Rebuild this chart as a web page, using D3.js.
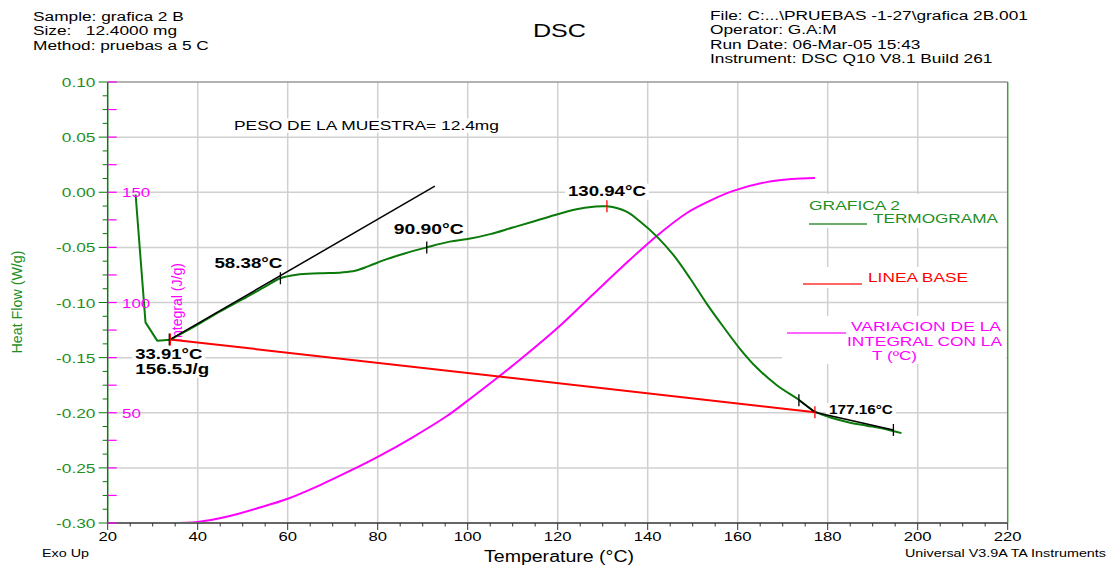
<!DOCTYPE html>
<html><head><meta charset="utf-8">
<script src="https://cdn.jsdelivr.net/npm/d3@7"></script>
<style>body{margin:0;background:#fff}svg{display:block}text{font-family:"Liberation Sans",Arial,sans-serif;white-space:pre}</style>
</head><body><svg id="c" width="1117" height="566"></svg>
<script>
// ---- data ----
// initial transient (drawn with straight segments)
const tempStart = [26.2, 28.4, 31.0, 33.9];
const hfStart = [-0.002, -0.118, -0.1346, -0.1338];
// main heat-flow curve
const tempHF = [33.9, 37, 40, 45, 50, 55, 58.38, 62, 67, 72, 75, 78, 82, 86, 90.9, 96, 100, 105, 110, 114.6, 118.3, 124.2, 127.9, 131, 135.3, 138.3, 142, 145.7, 149.4, 153.1, 156.8, 160.5, 164.2, 168.7, 173.5, 177.2, 181.2, 185, 188.7, 192, 196.4];
const heatFlow = [-0.1338, -0.1268, -0.120, -0.108, -0.097, -0.0855, -0.078, -0.0748, -0.0735, -0.0727, -0.0712, -0.0670, -0.0607, -0.0555, -0.050, -0.0448, -0.0425, -0.038, -0.032, -0.0266, -0.022, -0.0154, -0.0132, -0.0128, -0.0176, -0.0266, -0.040, -0.0569, -0.078, -0.101, -0.122, -0.142, -0.159, -0.175, -0.188, -0.199, -0.205, -0.209, -0.2117, -0.214, -0.2185];
const tempInt = [33.9, 40, 46.4, 53.8, 60, 67.2, 73.8, 80, 87.2, 95.3, 100, 106.8, 111.6, 120, 128, 136.1, 142, 148.7, 153.9, 159, 166.4, 172, 177.16];
const integral = [0, 0.5, 2.8, 7.0, 11.0, 17.2, 23.6, 30.0, 38.2, 48.4, 55.5, 66.2, 74.0, 88.5, 104, 119.5, 130.2, 140.6, 146.2, 150.6, 154.6, 156, 156.5];
const baseT = [33.91, 177.16];
const baseHF = [-0.1335, -0.1995];
const tanT = [33.91, 92.7];
const tanHF = [-0.1335, 0.0055];
const endT = [173.6, 177.16, 194.6];
const endHF = [-0.1886, -0.1995, -0.2156];
const blackMarkT = [58.38, 90.90, 173.6, 194.6];
const blackMarkHF = [-0.078, -0.050, -0.1886, -0.2156];
const redMarkT = [33.91, 130.94, 177.16];
const redMarkHF = [-0.1335, -0.0128, -0.1995];
const xTicks = [20, 40, 60, 80, 100, 120, 140, 160, 180, 200, 220];
const yTicks = [0.10, 0.05, 0.00, -0.05, -0.10, -0.15, -0.20, -0.25, -0.30];
const intTicks = [50, 100, 150];
const headerLeft = ["Sample: grafica 2 B", "Size:   12.4000 mg", "Method: pruebas a 5 C"];
const headerRight = ["File: C:...\\PRUEBAS -1-27\\grafica 2B.001", "Operator: G.A:M", "Run Date: 06-Mar-05 15:43", "Instrument: DSC Q10 V8.1 Build 261"];

// ---- scales ----
const x = d3.scaleLinear().domain([20, 220]).range([107.7, 1007.7]);
const y = d3.scaleLinear().domain([-0.30, 0.10]).range([523, 82]);
const yI = d3.scaleLinear().domain([0, 200]).range([523, 82]);

const GREEN = "#0a7a0a", GTXT = "#1f8f1f", MAG = "#ff00ff", RED = "#ff0000";
const svg = d3.select("#c");
const gGrid = svg.append("g"), gBox = svg.append("g"), gLab = svg.append("g"),
      gData = svg.append("g"), gAxis = svg.append("g"), gText = svg.append("g");

function txt(parent, s, px, py, o = {}) {
  const t = parent.append("text").attr("x", px).attr("y", py).text(s)
    .attr("font-size", o.size || 13).attr("fill", o.fill || "#000")
    .attr("font-weight", o.weight || "normal").attr("text-anchor", o.anchor || "start");
  let w = o.width;
  if (!w && o.sx) w = t.node().getComputedTextLength() * o.sx;
  if (w) t.attr("textLength", w).attr("lengthAdjust", "spacingAndGlyphs");
  if (o.rotate) t.attr("transform", `rotate(${o.rotate},${px},${py})`);
  if (o.box) {
    const sz = o.size || 13;
    let x0 = px;
    if (o.anchor === "middle") x0 = px - w / 2; else if (o.anchor === "end") x0 = px - w;
    gBox.append("rect").attr("x", x0 - 3).attr("y", py - sz * 0.85).attr("width", w + 6)
      .attr("height", sz * 1.1).attr("fill", "#fff");
  }
  return t;
}

// ---- grid ----
d3.range(40, 201, 20).forEach(v => gGrid.append("line").attr("x1", x(v)).attr("x2", x(v))
  .attr("y1", y(0.10)).attr("y2", y(-0.30)).attr("stroke", "#d0d0d0").attr("stroke-width", 1.5));
[-0.25, -0.20, -0.15, -0.10, -0.05, 0.0, 0.05].forEach(v => gGrid.append("line").attr("x1", x(20)).attr("x2", x(220))
  .attr("y1", y(v)).attr("y2", y(v)).attr("stroke", "#d0d0d0").attr("stroke-width", 1.5));

// legend white boxes
[[806, 194, 1000, 228], [800, 267, 972, 288], [782, 316, 1006.5, 364]].forEach(b =>
  gBox.append("rect").attr("x", b[0]).attr("y", b[1]).attr("width", b[2] - b[0]).attr("height", b[3] - b[1]).attr("fill", "#fff"));

// ---- frame / axes ----
gAxis.append("line").attr("x1", x(20)).attr("x2", x(220)).attr("y1", y(0.10)).attr("y2", y(0.10)).attr("stroke", "#999").attr("stroke-width", 1.5);
gAxis.append("line").attr("x1", x(220)).attr("x2", x(220)).attr("y1", y(0.10)).attr("y2", y(-0.30)).attr("stroke", "#3f9f3f").attr("stroke-width", 1.5);
gAxis.append("line").attr("x1", x(20)).attr("x2", x(20)).attr("y1", y(0.10)).attr("y2", y(-0.30)).attr("stroke", GREEN).attr("stroke-width", 1.5);
gAxis.append("line").attr("x1", x(20)).attr("x2", x(220)).attr("y1", y(-0.30)).attr("y2", y(-0.30)).attr("stroke", "#666").attr("stroke-width", 2);
d3.range(20, 221, 5).forEach(v => gAxis.append("line").attr("x1", x(v)).attr("x2", x(v))
  .attr("y1", y(-0.30)).attr("y2", y(-0.30) + (v % 20 === 0 ? 7 : 3.5)).attr("stroke", "#333").attr("stroke-width", 1));
d3.range(0, 33).forEach(i => { const v = 0.10 - i * 0.0125; gAxis.append("line").attr("x1", x(20) - (i % 4 === 0 ? 9 : 5)).attr("x2", x(20))
  .attr("y1", y(v)).attr("y2", y(v)).attr("stroke", GREEN).attr("stroke-width", 1); });
d3.range(0, 201, 12.5).forEach(v => gAxis.append("line").attr("x1", x(20)).attr("x2", x(20) + 9)
  .attr("y1", yI(v)).attr("y2", yI(v)).attr("stroke", MAG).attr("stroke-width", 1.2));

xTicks.forEach(v => txt(gText, String(v), x(v), 541, { size: 13, anchor: "middle", sx: 1.28 }));
yTicks.forEach(v => txt(gText, v.toFixed(2), 95.5, y(v) + 5, { size: 13, anchor: "end", fill: GTXT, sx: 1.33 }));
intTicks.forEach(v => txt(gText, String(v), 122, yI(v) + 5, { size: 13, fill: MAG, sx: 1.3 }));

txt(gText, "Heat Flow (W/g)", 22, 302, { size: 14, anchor: "middle", fill: GTXT, rotate: -90, width: 103 });
txt(gLab, "Integral (J/g)", 182, 302.5, { size: 15, anchor: "middle", fill: MAG, rotate: -90, width: 79 });
txt(gText, "Temperature (°C)", 559, 562, { size: 16, anchor: "middle", width: 150 });
txt(gText, "Exo Up", 42, 557, { size: 11, width: 47 });
txt(gText, "Universal V3.9A TA Instruments", 1106, 557, { size: 11, anchor: "end", width: 201 });

headerLeft.forEach((s, i) => txt(gText, s, 33, 21 + i * 14.3, { size: 12, sx: 1.44 }));
headerRight.forEach((s, i) => txt(gText, s, 710, 20 + i * 14.4, { size: 12, sx: 1.44 }));
txt(gText, "DSC", 559.5, 37, { size: 18, anchor: "middle", width: 53 });
txt(gText, "PESO DE LA MUESTRA= 12.4mg", 234, 129.5, { size: 13, width: 265, box: true });

// ---- data marks ----
const straight = d3.line().x(d => x(d[0])).y(d => y(d[1]));
const smooth = d3.line().x(d => x(d[0])).y(d => y(d[1])).curve(d3.curveCatmullRom.alpha(0.5));
const smoothI = d3.line().x(d => x(d[0])).y(d => yI(d[1])).curve(d3.curveCatmullRom.alpha(0.5));
gData.append("path").attr("d", smoothI(tempInt.map((t, i) => [t, integral[i]])))
  .attr("fill", "none").attr("stroke", MAG).attr("stroke-width", 2);
gData.append("path").attr("d", straight(baseT.map((t, i) => [t, baseHF[i]])))
  .attr("fill", "none").attr("stroke", RED).attr("stroke-width", 2);
gData.append("path").attr("d", straight(tempStart.map((t, i) => [t, hfStart[i]])))
  .attr("fill", "none").attr("stroke", GREEN).attr("stroke-width", 2).attr("stroke-linejoin", "round");
gData.append("path").attr("d", smooth(tempHF.map((t, i) => [t, heatFlow[i]])))
  .attr("fill", "none").attr("stroke", GREEN).attr("stroke-width", 2);
gData.append("path").attr("d", straight(tanT.map((t, i) => [t, tanHF[i]])))
  .attr("fill", "none").attr("stroke", "#000").attr("stroke-width", 1.5);
gData.append("path").attr("d", straight(endT.map((t, i) => [t, endHF[i]])))
  .attr("fill", "none").attr("stroke", "#000").attr("stroke-width", 1.5);
blackMarkT.forEach((t, i) => gData.append("line").attr("x1", x(t)).attr("x2", x(t))
  .attr("y1", y(blackMarkHF[i]) - 6).attr("y2", y(blackMarkHF[i]) + 6).attr("stroke", "#000").attr("stroke-width", 1.3));
gData.append("line").attr("x1", x(33.91) - 1).attr("x2", x(33.91) - 1).attr("y1", y(-0.1335) - 6).attr("y2", y(-0.1335) + 6).attr("stroke", "#000").attr("stroke-width", 1.3);
redMarkT.forEach((t, i) => gData.append("line").attr("x1", x(t)).attr("x2", x(t))
  .attr("y1", y(redMarkHF[i]) - 6).attr("y2", y(redMarkHF[i]) + 6).attr("stroke", RED).attr("stroke-width", 1.3));

// annotations
txt(gText, "58.38°C", x(58.38) + 2, y(-0.078) - 10, { size: 15, weight: "bold", anchor: "end", width: 68, box: true });
txt(gText, "90.90°C", x(90.90) - 33, y(-0.050) - 13, { size: 15, weight: "bold", width: 70, box: true });
txt(gText, "130.94°C", x(130.94), y(-0.0128) - 10, { size: 15, weight: "bold", anchor: "middle", width: 78, box: true });
txt(gText, "33.91°C", x(33.91) - 35, y(-0.1335) + 20, { size: 14, weight: "bold", width: 67, box: true });
txt(gText, "156.5J/g", x(33.91) - 35, y(-0.1335) + 34.5, { size: 14, weight: "bold", width: 74, box: true });
txt(gText, "177.16°C", x(177.16) + 14, y(-0.1995) + 2, { size: 13, weight: "bold", width: 64, box: true });

// legend
gText.append("line").attr("x1", 809).attr("x2", 867).attr("y1", 224).attr("y2", 224).attr("stroke", GREEN).attr("stroke-opacity", 0.6).attr("stroke-width", 2);
gText.append("line").attr("x1", 803).attr("x2", 862).attr("y1", 284).attr("y2", 284).attr("stroke", RED).attr("stroke-opacity", 0.6).attr("stroke-width", 2);
gText.append("line").attr("x1", 787).attr("x2", 846).attr("y1", 333).attr("y2", 333).attr("stroke", MAG).attr("stroke-opacity", 0.6).attr("stroke-width", 2);
txt(gText, "GRAFICA 2", 809, 209.5, { size: 13, fill: GTXT, width: 91 });
txt(gText, "TERMOGRAMA", 873, 223, { size: 13, fill: GTXT, width: 125 });
txt(gText, "LINEA BASE", 868, 282, { size: 13, fill: RED, width: 100 });
txt(gText, "VARIACION DE LA", 851, 331, { size: 13, fill: MAG, width: 150 });
txt(gText, "INTEGRAL CON LA", 847, 346, { size: 13, fill: MAG, width: 155 });
txt(gText, "T (ºC)", 872, 360, { size: 13, fill: MAG, width: 45 });
</script></body></html>
